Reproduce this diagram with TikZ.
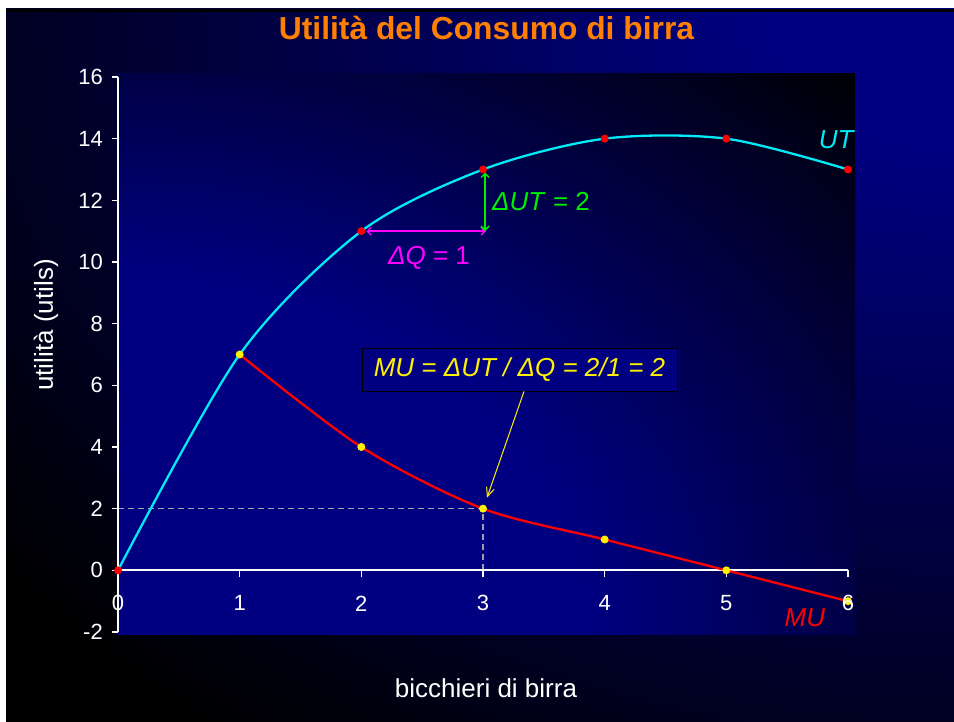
\documentclass[tikz,border=0pt]{standalone}
\usepackage{fontspec}
\setmainfont{Liberation Sans}
\usetikzlibrary{arrows.meta}
\definecolor{navyc}{RGB}{0,0,128}
\definecolor{titleor}{RGB}{255,128,0}
\definecolor{dashgray}{RGB}{160,160,175}
\definecolor{utcyan}{RGB}{0,235,245}
\definecolor{dqmag}{RGB}{255,0,255}
\definecolor{dugreen}{RGB}{0,240,0}
\pgfdeclareradialshading{slidebg}{\pgfpoint{0bp}{0bp}}{color(0bp)=(navyc); color(5bp)=(navyc); color(32bp)=(black); color(50bp)=(black)}
\pgfdeclareradialshading{plotbg}{\pgfpoint{0bp}{0bp}}{color(0bp)=(navyc); color(16bp)=(navyc); color(36bp)=(black); color(50bp)=(black)}
\tikzset{
  fsz/.style={font=\fontsize{#1}{#1}\selectfont},
  ticklbl/.style={text=white, fsz=22, inner sep=0pt},
  axtitle/.style={text=white, fsz=26, inner sep=0pt},
  curvelbl/.style={fsz=26, inner sep=0pt},
  reddot/.style={fill=red},
  yeldot/.style={fill=yellow},
  dimarrow/.style={line width=1.4pt, {Straight Barb[length=4pt,width=8pt]}-{Straight Barb[length=4pt,width=8pt]}},
}
\begin{document}
\begin{tikzpicture}[x=1pt,y=-1pt]
\useasboundingbox (0,0) rectangle (954,722);
\fill[white] (0,0) rectangle (954,722);
% slide background
\begin{scope}
  \clip (6,9) rectangle (954,722);
  \shade[shading=slidebg] (6,-704) rectangle (1902,722);
\end{scope}
\fill[black] (6,9) rectangle (954,12);
% plot area
\begin{scope}
  \clip (118,74) rectangle (855,634);
  \shade[shading=plotbg] (-619,74) rectangle (855,1194);
\end{scope}
% title
\node[text=titleor, font=\fontsize{31.8}{33}\bfseries, inner sep=0pt] (title) at (486.5,28) {Utilità del Consumo di birra};
% axis titles
\node[axtitle, rotate=90] (ytitle) at (46,325) {utilità (utils)};
\node[axtitle] (xtitle) at (486,688) {bicchieri di birra};
% data scope
\begin{scope}[shift={(118,570.33)}, x=121.667pt, y=30.833pt]
  % dashed guides
  \coordinate (g0) at (0,2);
  \coordinate (g1) at (3,2);
  \coordinate (g2) at (3,0);
  \draw[dashgray, line width=1.3pt, dash pattern=on 6pt off 4pt] (g0) -- (g1) -- (g2);
  % axes
  \draw[white, line width=2pt] (0,16) -- (0,-2);
  \draw[white, line width=2pt] (0,0) -- (6,0);
  \foreach \v in {-2,0,...,16} {
    \draw[white, line width=1.6pt] (0,\v) -- ++(-6pt,0);
  }
  \foreach \u in {0,...,6} {
    \draw[white, line width=1.6pt] (\u,0) -- ++(0,-7pt);
  }
  % curves
  \draw[utcyan, line width=2.3pt, line join=round] plot[smooth, tension=0.5] coordinates {(0,0) (1,7) (2,11) (3,13) (4,14) (5,14) (6,13)};
  \draw[red, line width=2.3pt, line join=round] plot[smooth, tension=0.5] coordinates {(1,7) (2,4) (3,2) (4,1) (5,0) (6,-1)};
  % dots
  \foreach \p in {(0,0),(2,11),(3,13),(4,14),(5,14),(6,13)} {
    \fill[reddot] \p circle[radius=4pt];
  }
  \foreach \p in {(1,7),(2,4),(3,2),(4,1),(5,0),(6,-1)} {
    \fill[yeldot] \p circle[radius=4pt];
  }
  % delta arrows
  \coordinate (q0) at ([xshift=5pt]2,11);
  \coordinate (q1) at ([xshift=3pt]3,11);
  \coordinate (u0) at ([xshift=2pt]3,11);
  \coordinate (u1) at ([xshift=2pt,yshift=-3pt]3,13);
  \draw[dqmag, dimarrow] (q0) -- (q1);
  \draw[dugreen, dimarrow] (u0) -- (u1);
  % tick labels
  \foreach \v in {-2,0,...,16} {
    \node[ticklbl, anchor=east] at ([xshift=-15pt]0,\v) {\v};
  }
  \foreach \u in {0,...,6} {
    \node[ticklbl] at ([yshift=-33pt]\u,0) {\u};
  }
  \coordinate (mutip) at ([shift={(4pt,11pt)}]3,2);
\end{scope}
% labels
\node[curvelbl, text=dqmag] (dqlab) at (429,258) {\textit{ΔQ} = 1};
\node[curvelbl, text=dugreen, anchor=west] (dulab) at (492,202) {\textit{ΔUT} = 2};
\node[curvelbl, text=utcyan] (utlab) at (837,140) {\textit{UT}};
\node[curvelbl, text=red] (mulab) at (805,618) {\textit{MU}};
% formula box
\node[draw=black, line width=0.8pt, fill=navyc, text=yellow, fsz=26, minimum width=315pt, minimum height=43pt, inner sep=0pt] (mubox) at (519.5,369.5) {\textit{MU = ΔUT / ΔQ = 2/1 = 2}};
\draw[yellow, line width=1pt, -{Straight Barb[length=9pt,width=8pt]}] ([xshift=4.5pt]mubox.south) -- (mutip);
\end{tikzpicture}
\end{document}
